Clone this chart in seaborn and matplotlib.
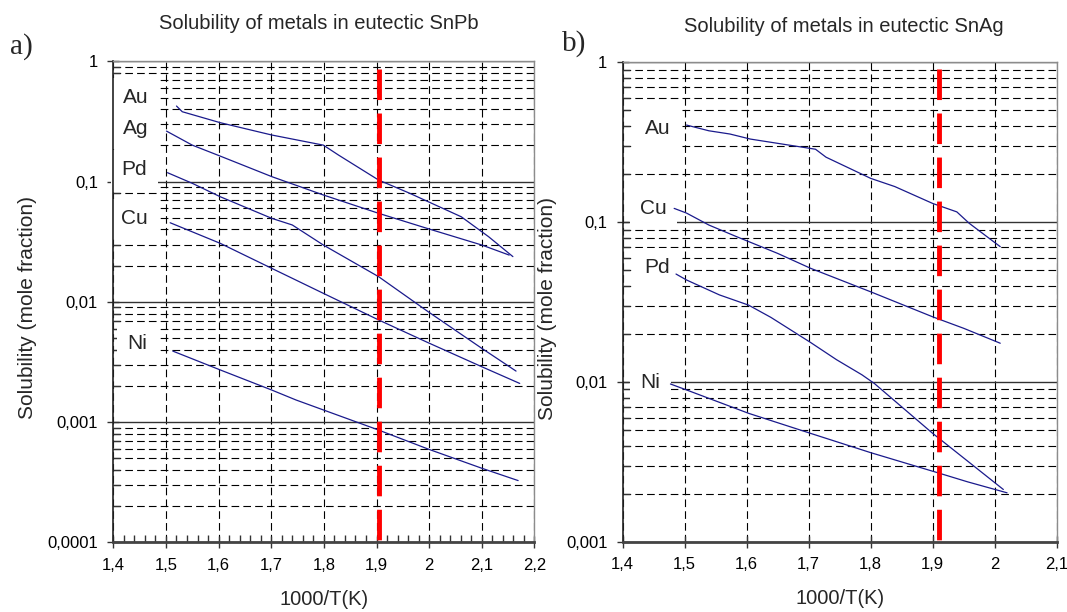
import matplotlib
matplotlib.use("Agg")
import matplotlib.pyplot as plt
import seaborn as sns
import pandas as pd
from matplotlib.ticker import FixedLocator, FixedFormatter, LogLocator, MultipleLocator, NullLocator, NullFormatter

# ---------------- data: panel a) eutectic SnPb ----------------
snpb_au_x = [1.520, 1.531, 1.603, 1.701, 1.799, 1.828, 1.904, 1.963, 2.061, 2.113, 2.159]
snpb_au_y = [0.425, 0.381, 0.309, 0.244, 0.201, 0.166, 0.103, 0.080, 0.051, 0.0348, 0.0238]
snpb_ag_x = [1.501, 1.550, 1.603, 1.701, 1.799, 1.904, 2.002, 2.100, 2.152]
snpb_ag_y = [0.263, 0.201, 0.163, 0.110, 0.0774, 0.0545, 0.0401, 0.0297, 0.0245]
snpb_pd_x = [1.503, 1.550, 1.603, 1.701, 1.740, 1.799, 1.904, 1.998, 2.100, 2.165]
snpb_pd_y = [0.1186, 0.0968, 0.0749, 0.0495, 0.0436, 0.0297, 0.0162, 0.00829, 0.00411, 0.00266]
snpb_cu_x = [1.508, 1.603, 1.701, 1.799, 1.904, 1.998, 2.100, 2.172]
snpb_cu_y = [0.0455, 0.0307, 0.0190, 0.01178, 0.00708, 0.00458, 0.00289, 0.0021]
snpb_ni_x = [1.513, 1.603, 1.701, 1.747, 1.904, 1.998, 2.100, 2.169]
snpb_ni_y = [0.0039, 0.00272, 0.00185, 0.00153, 0.00086, 0.000598, 0.000414, 0.000327]

# ---------------- data: panel b) eutectic SnAg ----------------
snag_au_x = [1.503, 1.539, 1.573, 1.606, 1.667, 1.711, 1.728, 1.800, 1.839, 1.900, 1.939, 1.959, 2.009]
snag_au_y = [0.405, 0.373, 0.356, 0.331, 0.304, 0.286, 0.255, 0.188, 0.167, 0.131, 0.116, 0.0984, 0.0703]
snag_cu_x = [1.483, 1.503, 1.539, 1.584, 1.650, 1.703, 1.800, 1.900, 1.950, 2.009]
snag_cu_y = [0.122, 0.114, 0.096, 0.0811, 0.0638, 0.0515, 0.0367, 0.0256, 0.0217, 0.0175]
snag_pd_x = [1.486, 1.503, 1.556, 1.603, 1.639, 1.703, 1.745, 1.786, 1.806, 1.900, 2.014]
snag_pd_y = [0.0474, 0.0435, 0.0351, 0.0303, 0.0254, 0.0177, 0.0138, 0.0111, 0.0098, 0.00478, 0.00213]
snag_ni_x = [1.477, 1.503, 1.603, 1.703, 1.800, 1.911, 1.956, 2.020]
snag_ni_y = [0.00973, 0.00893, 0.00638, 0.00478, 0.00362, 0.00269, 0.00238, 0.00203]

# labels (text, x, y)
snpb_labels = [("Au", 1.443, 0.50), ("Ag", 1.443, 0.275), ("Pd", 1.44, 0.126),
               ("Cu", 1.44, 0.049), ("Ni", 1.446, 0.0045)]
snag_labels = [("Au", 1.456, 0.385), ("Cu", 1.450, 0.121), ("Pd", 1.456, 0.052),
               ("Ni", 1.445, 0.0099)]

snpb_xticks = [1.4, 1.5, 1.6, 1.7, 1.8, 1.9, 2.0, 2.1, 2.2]
snpb_xticklabels = ["1,4", "1,5", "1,6", "1,7", "1,8", "1,9", "2", "2,1", "2,2"]
snag_xticks = [1.4, 1.5, 1.6, 1.7, 1.8, 1.9, 2.0, 2.1]
snag_xticklabels = ["1,4", "1,5", "1,6", "1,7", "1,8", "1,9", "2", "2,1"]
snpb_yticks = [1e-4, 1e-3, 1e-2, 1e-1, 1]
snpb_yticklabels = ["0,0001", "0,001", "0,01", "0,1", "1"]
snag_yticks = [1e-3, 1e-2, 1e-1, 1]
snag_yticklabels = ["0,001", "0,01", "0,1", "1"]

eutectic_x_snpb = 1.905
eutectic_x_snag = 1.91

titles = ["Solubility of metals in eutectic SnPb", "Solubility of metals in eutectic SnAg"]
xlabel = "1000/T(K)"
ylabel = "Solubility (mole fraction)"


def build(series):
    frames = []
    for name, xs, ys in series:
        frames.append(pd.DataFrame({"x": xs, "y": ys, "metal": name}))
    return pd.concat(frames, ignore_index=True)


df_a = build([("Au", snpb_au_x, snpb_au_y), ("Ag", snpb_ag_x, snpb_ag_y),
              ("Pd", snpb_pd_x, snpb_pd_y), ("Cu", snpb_cu_x, snpb_cu_y),
              ("Ni", snpb_ni_x, snpb_ni_y)])
df_b = build([("Au", snag_au_x, snag_au_y), ("Cu", snag_cu_x, snag_cu_y),
              ("Pd", snag_pd_x, snag_pd_y), ("Ni", snag_ni_x, snag_ni_y)])

sns.set_theme(style="white")
plt.rcParams["font.family"] = ["Liberation Sans", "DejaVu Sans"]
plt.rcParams["lines.scale_dashes"] = False
plt.rcParams["axes.axisbelow"] = True

fig = plt.figure(figsize=(10.67, 6.12), dpi=100)
ax1 = fig.add_axes([0.1062, 0.1136, 0.3947, 0.7862])
ax2 = fig.add_axes([0.5836, 0.1144, 0.4067, 0.7838])

dash = (0, (5.5, 3.0))
navy = "#1a1a8c"

panels = [
    (ax1, df_a, (1.4, 2.2), (1e-4, 1), snpb_xticks, snpb_xticklabels, snpb_yticks, snpb_yticklabels,
     snpb_labels, eutectic_x_snpb, True, titles[0], 0.487, 23.5, -0.181),
    (ax2, df_b, (1.4, 2.1), (1e-3, 1), snag_xticks, snag_xticklabels, snag_yticks, snag_yticklabels,
     snag_labels, eutectic_x_snag, False, titles[1], 0.510, 21.8, -0.151),
]

for (ax, df, xl, yl, xt, xtl, yt, ytl, labels, ex, xminor, title, tx, tpad, ylx) in panels:
    sns.lineplot(data=df, x="x", y="y", hue="metal", units="metal", estimator=None, sort=False,
                 palette=[navy] * df["metal"].nunique(), legend=False, lw=0.9, ax=ax, zorder=3)
    ax.set_yscale("log")
    ax.set_xlim(*xl)
    ax.set_ylim(*yl)

    ax.xaxis.set_major_locator(FixedLocator(xt))
    ax.xaxis.set_major_formatter(FixedFormatter(xtl))
    ax.yaxis.set_major_locator(FixedLocator(yt))
    ax.yaxis.set_major_formatter(FixedFormatter(ytl))
    ax.yaxis.set_minor_locator(LogLocator(base=10, subs=range(2, 10), numticks=20))
    ax.yaxis.set_minor_formatter(NullFormatter())
    if xminor:
        ax.xaxis.set_minor_locator(MultipleLocator(0.02))
    else:
        ax.xaxis.set_minor_locator(NullLocator())

    ax.grid(which="major", axis="x", linestyle=dash, color="black", lw=0.8)
    ax.grid(which="minor", axis="y", linestyle=dash, color="black", lw=0.8)
    ax.grid(which="major", axis="y", linestyle="-", color="#333333", lw=1.0)

    ax.tick_params(axis="both", which="major", direction="inout", length=8, width=1,
                   labelsize=12, pad=7, color="#333333", labelcolor="black",
                   bottom=True, left=True)
    ax.tick_params(axis="both", which="minor", direction="in", length=5, width=1,
                   color="#333333", bottom=True, left=True)

    for side in ["top", "right"]:
        ax.spines[side].set_color("#8c8c8c")
        ax.spines[side].set_linewidth(1.0)
    ax.spines["left"].set_color("#222222")
    ax.spines["left"].set_linewidth(1.2)
    ax.spines["bottom"].set_color("#444444")
    ax.spines["bottom"].set_linewidth(2.0)

    ax.axvline(ex, ymin=0.985, ymax=0.0, color="red", lw=3.5, linestyle=(0, (22, 9.7)), zorder=4)

    for (t, lx, ly) in labels:
        ax.text(lx, ly, t, fontsize=15, ha="center", va="center", zorder=2.4,
                bbox=dict(boxstyle="square,pad=0.5", fc="white", ec="none"))

    ax.set_title(title, fontsize=14.5, x=tx, pad=tpad, va="baseline")
    ax.set_xlabel(xlabel, fontsize=14.5)
    ax.xaxis.set_label_coords(0.5, -0.099)
    ax.xaxis.label.set_va("top")
    ax.set_ylabel(ylabel, fontsize=15)
    ax.yaxis.set_label_coords(ylx, 0.4875)

fig.text(10 / 1067, 1 - 47 / 612, "a)", fontsize=21, family=["Liberation Serif", "DejaVu Serif"],
         ha="left", va="center")
fig.text(562 / 1067, 1 - 44 / 612, "b)", fontsize=21, family=["Liberation Serif", "DejaVu Serif"],
         ha="left", va="center")

fig.savefig("out.png", dpi=100)
